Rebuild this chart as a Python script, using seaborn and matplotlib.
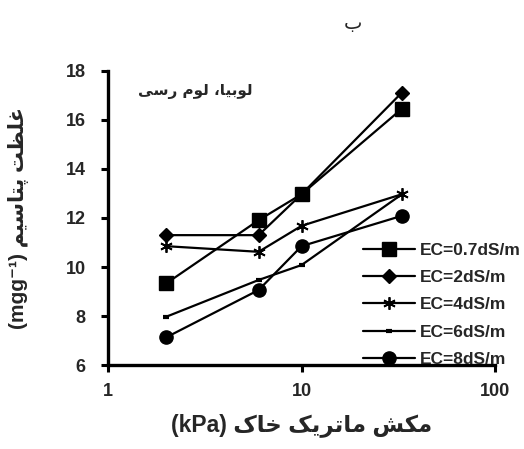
"""
Potassium concentration vs soil matric suction (bean, clay loam)
"""

import pandas as pd
import seaborn as sns
import matplotlib
matplotlib.use("Agg")
import matplotlib.pyplot as plt

suction_kpa = [2, 6, 10, 33]
ec_labels = ["EC=0.7dS/m", "EC=2dS/m", "EC=4dS/m", "EC=6dS/m", "EC=8dS/m"]
k_ec07 = [9.33, 11.91, 12.97, 16.46]
k_ec2 = [11.30, 11.30, 12.97, 17.12]
k_ec4 = [10.85, 10.62, 11.68, 12.97]
k_ec6 = [7.97, 9.47, 10.08, 12.97]
k_ec8 = [7.13, 9.06, 10.85, 12.09]

y_ticks = [6, 8, 10, 12, 14, 16, 18]
x_ticks = [1, 10, 100]

# arabic letters -> (isolated, final, initial, medial); right-joining ones have no initial/medial
FORMS = {
    "\u0627": ("\uFE8D", "\uFE8E", None, None),
    "\u0628": ("\uFE8F", "\uFE90", "\uFE91", "\uFE92"),
    "\u067E": ("\uFB56", "\uFB57", "\uFB58", "\uFB59"),
    "\u062A": ("\uFE95", "\uFE96", "\uFE97", "\uFE98"),
    "\u062E": ("\uFEA5", "\uFEA6", "\uFEA7", "\uFEA8"),
    "\u0631": ("\uFEAD", "\uFEAE", None, None),
    "\u0633": ("\uFEB1", "\uFEB2", "\uFEB3", "\uFEB4"),
    "\u0634": ("\uFEB5", "\uFEB6", "\uFEB7", "\uFEB8"),
    "\u0638": ("\uFEC5", "\uFEC6", "\uFEC7", "\uFEC8"),
    "\u063A": ("\uFECD", "\uFECE", "\uFECF", "\uFED0"),
    "\u06A9": ("\uFB8E", "\uFB8F", "\uFB90", "\uFB91"),
    "\u0644": ("\uFEDD", "\uFEDE", "\uFEDF", "\uFEE0"),
    "\u0645": ("\uFEE1", "\uFEE2", "\uFEE3", "\uFEE4"),
    "\u0648": ("\uFEED", "\uFEEE", None, None),
    "\u06CC": ("\uFBFC", "\uFBFD", "\uFBFE", "\uFBFF"),
}


def shape(text):
    out = []
    for i, c in enumerate(text):
        if c not in FORMS:
            out.append(c)
            continue
        prev = text[i - 1] if i > 0 else ""
        nxt = text[i + 1] if i + 1 < len(text) else ""
        join_prev = prev in FORMS and FORMS[prev][2] is not None
        join_next = FORMS[c][2] is not None and nxt in FORMS
        iso, fin, ini, med = FORMS[c]
        if join_prev and join_next:
            out.append(med)
        elif join_prev:
            out.append(fin)
        elif join_next:
            out.append(ini)
        else:
            out.append(iso)
    return "".join(out)


def rtl(text):
    return shape(text)[::-1]


def main():
    sns.set_theme(style="ticks")
    fonts = ["Liberation Sans", "DejaVu Sans"]
    plt.rcParams["font.family"] = fonts
    plt.rcParams["font.weight"] = "bold"

    fig = plt.figure(figsize=(5.24, 4.49), dpi=100)
    ax = fig.add_axes([0.206, 0.187, 0.739, 0.655])

    series = [k_ec07, k_ec2, k_ec4, k_ec6, k_ec8]
    markers = ["s", "D", (6, 2, 0), "_", "o"]
    msizes = [10, 7.5, 9, 5, 9.5]
    mews = [1, 1, 1.3, 3, 1]
    for label, vals, mk, ms, mew in zip(ec_labels, series, markers, msizes, mews):
        df = pd.DataFrame({"kpa": suction_kpa, "k": vals})
        sns.lineplot(data=df, x="kpa", y="k", ax=ax, color="black", linewidth=1.6,
                     marker=mk, markersize=ms, markeredgewidth=mew,
                     markeredgecolor="black", markerfacecolor="black", label=label)

    ax.set_xscale("log")
    ax.set_xlim(1, 100)
    ax.set_ylim(6, 18)
    ax.set_xticks(x_ticks)
    ax.set_xticklabels([str(t) for t in x_ticks])
    ax.xaxis.set_minor_locator(matplotlib.ticker.NullLocator())
    ax.set_yticks(y_ticks)
    ax.set_yticklabels([str(t) for t in y_ticks])
    ax.tick_params(axis="both", labelsize=13, width=2.2, length=5, color="black")
    ax.tick_params(axis="y", pad=11)
    ax.tick_params(axis="x", pad=8)
    for lab in ax.get_xticklabels() + ax.get_yticklabels():
        lab.set_fontweight("bold")

    for side in ["top", "right"]:
        ax.spines[side].set_visible(False)
    for side in ["left", "bottom"]:
        ax.spines[side].set_linewidth(2.4)
        ax.spines[side].set_color("black")

    ax.set_xlabel("(kPa) " + rtl("مکش ماتریک خاک"), fontsize=16.5, fontweight="bold",
                  family=fonts)
    ax.xaxis.set_label_coords(0.5, -0.165)
    ax.set_ylabel("(mgg\u207b\u00b9) " + rtl("غلظت پتاسیم"), fontsize=15,
                  fontweight="bold", family=fonts)
    ax.yaxis.set_label_coords(-0.205, 0.5)

    ax.text(0.225, 0.93, rtl("لوبیا، لوم رسی"), transform=ax.transAxes, fontsize=11,
            fontweight="bold", ha="center", va="center", family=["DejaVu Sans"])
    fig.text(353 / 524, 1 - 24 / 449, rtl("ب"), fontsize=14, fontweight="normal",
             ha="center", va="center", family=["DejaVu Sans"])

    handles, labels = ax.get_legend_handles_labels()
    ax.legend(handles, labels, loc="upper left", bbox_to_anchor=(0.64, 0.44),
              frameon=False, handlelength=3.0, handletextpad=0.3,
              labelspacing=0.7, borderaxespad=0, prop={"weight": "bold", "size": 12.5})

    fig.savefig("out.png", dpi=100)


if __name__ == "__main__":
    main()
